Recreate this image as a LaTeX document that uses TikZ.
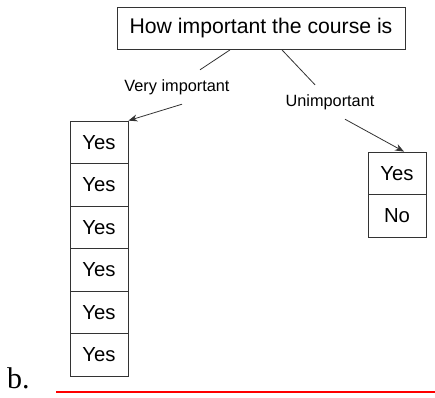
\documentclass[tikz,border=0pt]{standalone}
\usepackage{fontspec}
\setmainfont{Liberation Sans}
\newfontfamily\serifb{Liberation Serif}
\usetikzlibrary{arrows.meta}
\begin{document}
\begin{tikzpicture}[x=1pt,y=-1pt,
  cell/.style={draw=black!80,line width=0.8pt,minimum width=58pt,minimum height=42.5pt,inner sep=0pt,font=\fontsize{20.3}{22}\selectfont},
  lbl/.style={inner sep=0pt,minimum height=34pt,font=\fontsize{16.3}{18}\selectfont},
  conn/.style={draw=black!80,line width=0.8pt},
  arr/.style={conn,-{Stealth[length=9pt,width=7pt]}}]
\useasboundingbox (0,0) rectangle (435,397);
\node[draw=black!80,line width=0.8pt,minimum width=288pt,minimum height=42pt,inner sep=0pt,font=\fontsize{21.2}{23}\selectfont] (top) at (261,28.5) {How important the course is};
\node[lbl] (vi) at (177,87) {Very important};
\node[lbl] (un) at (330,102) {Unimportant};
\foreach \i in {1,...,6}{
  \node[cell] (c\i) at (99,{121+42.5*(\i-0.5)}) {Yes};
}
\node[cell] (r1) at (397,{152+21.25}) {Yes};
\node[cell] (r2) at (397,{152+63.75}) {No};
\draw[conn] ([xshift=-31pt]top.south) -- ([xshift=23pt]vi.north);
\draw[conn] ([xshift=21pt]top.south) -- ([xshift=-15pt]un.north);
\draw[arr] ([xshift=5pt]vi.south) -- (c1.north east);
\draw[arr] ([xshift=15pt]un.south) -- ([xshift=7pt]r1.north);
\node[anchor=base west,inner sep=0pt,font=\serifb\fontsize{30}{32}\selectfont] (b) at (7,388) {b.};
\coordinate (l1) at (56,392);
\coordinate (l2) at (435,392);
\draw[red,line width=2pt] (l1) -- (l2);
\end{tikzpicture}
\end{document}
